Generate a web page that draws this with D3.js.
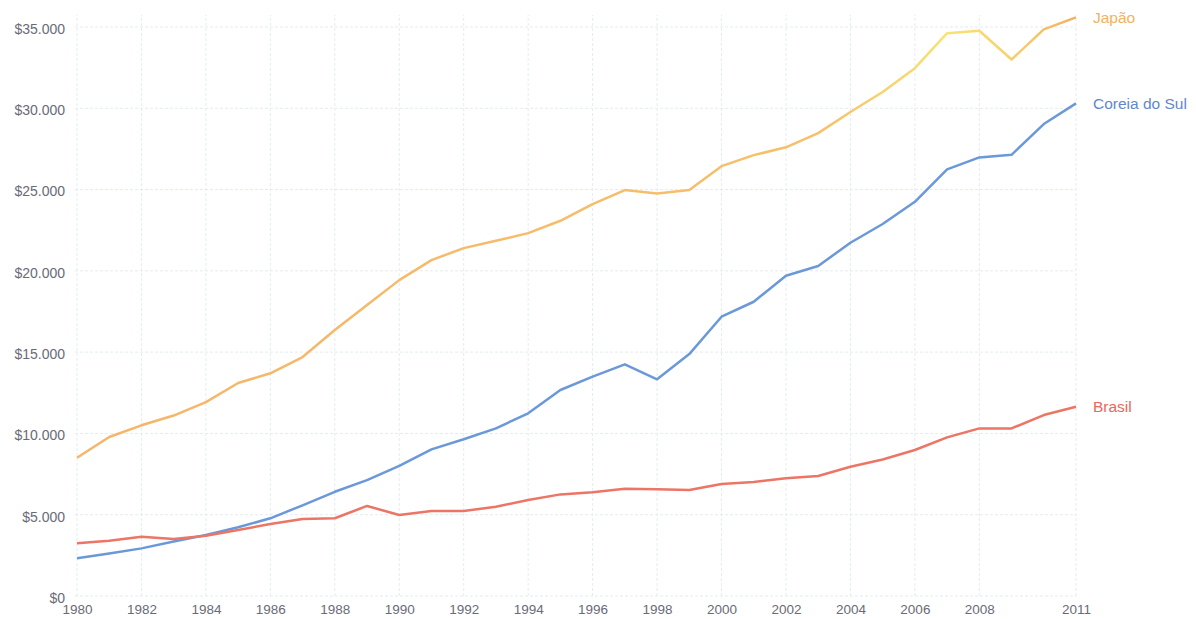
<!DOCTYPE html>
<html>
<head>
<meta charset="utf-8">
<script src="https://cdn.jsdelivr.net/npm/d3@7"></script>
<style>
  body { margin: 0; background: #fff; }
  svg { display: block; font-family: "Liberation Sans", Arial, sans-serif; }
  .grid line { stroke: #e3ecf1; stroke-dasharray: 3,2; }
  .tick text { fill: #6a6a78; }
</style>
</head>
<body>
<div id="chart"></div>
<script>
var years = d3.range(1980, 2012);
var xTicks = [1980,1982,1984,1986,1988,1990,1992,1994,1996,1998,2000,2002,2004,2006,2008,2011];
var yTicks = [0,5000,10000,15000,20000,25000,30000,35000];

var japao = [8500,9780,10500,11100,11930,13100,13700,14700,16360,17900,19430,20660,21400,21850,22320,23080,24100,24970,24760,24970,26440,27120,27600,28470,29770,31000,32470,34620,34770,33000,34850,35590];
var coreia = [2320,2620,2930,3350,3750,4230,4780,5580,6410,7130,8010,9020,9640,10310,11240,12670,13490,14250,13330,14880,17180,18100,19700,20300,21730,22880,24250,26240,26980,27140,29030,30300];
var brasil = [3240,3400,3650,3500,3710,4060,4430,4740,4780,5540,4980,5230,5230,5490,5900,6250,6380,6600,6560,6520,6890,7010,7240,7380,7950,8400,8980,9760,10310,10310,11130,11640];

var series = [
  {name: 'Japão', values: japao, color: 'url(#japaoGrad)', label: '#f2b25e'},
  {name: 'Coreia do Sul', values: coreia, color: '#6b98d8', label: '#5f88cf'},
  {name: 'Brasil', values: brasil, color: '#ec7565', label: '#e8685a'}
];

var width = 1196, height = 619;
var margin = {top: 27, right: 120, bottom: 23, left: 77};

var svg = d3.select('#chart').append('svg')
  .attr('width', width)
  .attr('height', height);

var x = d3.scaleLinear()
  .domain([1980, 2011])
  .range([margin.left, width - margin.right]);

var y = d3.scaleLinear()
  .domain([0, 35000])
  .range([height - margin.bottom, margin.top]);

// gradient for Japão line
var grad = svg.append('defs').append('linearGradient')
  .attr('id', 'japaoGrad')
  .attr('gradientUnits', 'userSpaceOnUse')
  .attr('x1', x(1980)).attr('x2', x(2011))
  .attr('y1', 0).attr('y2', 0);
grad.append('stop').attr('offset', 0).attr('stop-color', '#f5b56a');
grad.append('stop').attr('offset', (2003 - 1980) / 31).attr('stop-color', '#f6c06a');
grad.append('stop').attr('offset', (2007 - 1980) / 31).attr('stop-color', '#f8e374');
grad.append('stop').attr('offset', (2009 - 1980) / 31).attr('stop-color', '#f7d06c');
grad.append('stop').attr('offset', 1).attr('stop-color', '#f3b060');

// grid
svg.append('g').attr('class', 'grid')
  .selectAll('line.h').data(yTicks).enter().append('line')
  .attr('x1', x(1980) - 2).attr('x2', x(2011))
  .attr('y1', function(d) { return y(d); })
  .attr('y2', function(d) { return y(d); });

svg.append('g').attr('class', 'grid')
  .selectAll('line.v').data(xTicks).enter().append('line')
  .attr('x1', function(d) { return x(d); })
  .attr('x2', function(d) { return x(d); })
  .attr('y1', y(0)).attr('y2', y(35000) - 12);

// axes
var fmt = function(d) { return '$' + d3.format(',')(d).replace(/,/g, '.'); };

var yAxis = svg.append('g')
  .attr('transform', 'translate(' + (x(1980) - 12) + ',0)')
  .call(d3.axisLeft(y).tickValues(yTicks).tickFormat(fmt).tickSize(0).tickPadding(0));
yAxis.select('.domain').remove();
yAxis.selectAll('.tick text').style('font-size', '14px').attr('dy', '0.45em');

var xAxis = svg.append('g')
  .attr('transform', 'translate(0,' + (y(0) + 5) + ')')
  .call(d3.axisBottom(x).tickValues(xTicks).tickFormat(d3.format('d')).tickSize(0).tickPadding(3));
xAxis.select('.domain').remove();
xAxis.selectAll('.tick text').style('font-size', '13.5px');

// lines
var line = d3.line()
  .x(function(d, i) { return x(years[i]); })
  .y(function(d) { return y(d); });

svg.selectAll('path.serie')
  .data(series)
  .enter()
  .append('path')
  .attr('class', 'serie')
  .attr('d', function(d) { return line(d.values); })
  .style('fill', 'none')
  .style('stroke', function(d) { return d.color; })
  .style('stroke-width', 2.5)
  .style('stroke-linejoin', 'round');

svg.selectAll('text.lbl')
  .data(series)
  .enter()
  .append('text')
  .attr('class', 'lbl')
  .attr('x', x(2011) + 17)
  .attr('y', function(d) { return y(d.values[d.values.length - 1]); })
  .attr('dy', '0.35em')
  .style('font-size', '15.5px')
  .style('fill', function(d) { return d.label; })
  .text(function(d) { return d.name; });
</script>
</body>
</html>
